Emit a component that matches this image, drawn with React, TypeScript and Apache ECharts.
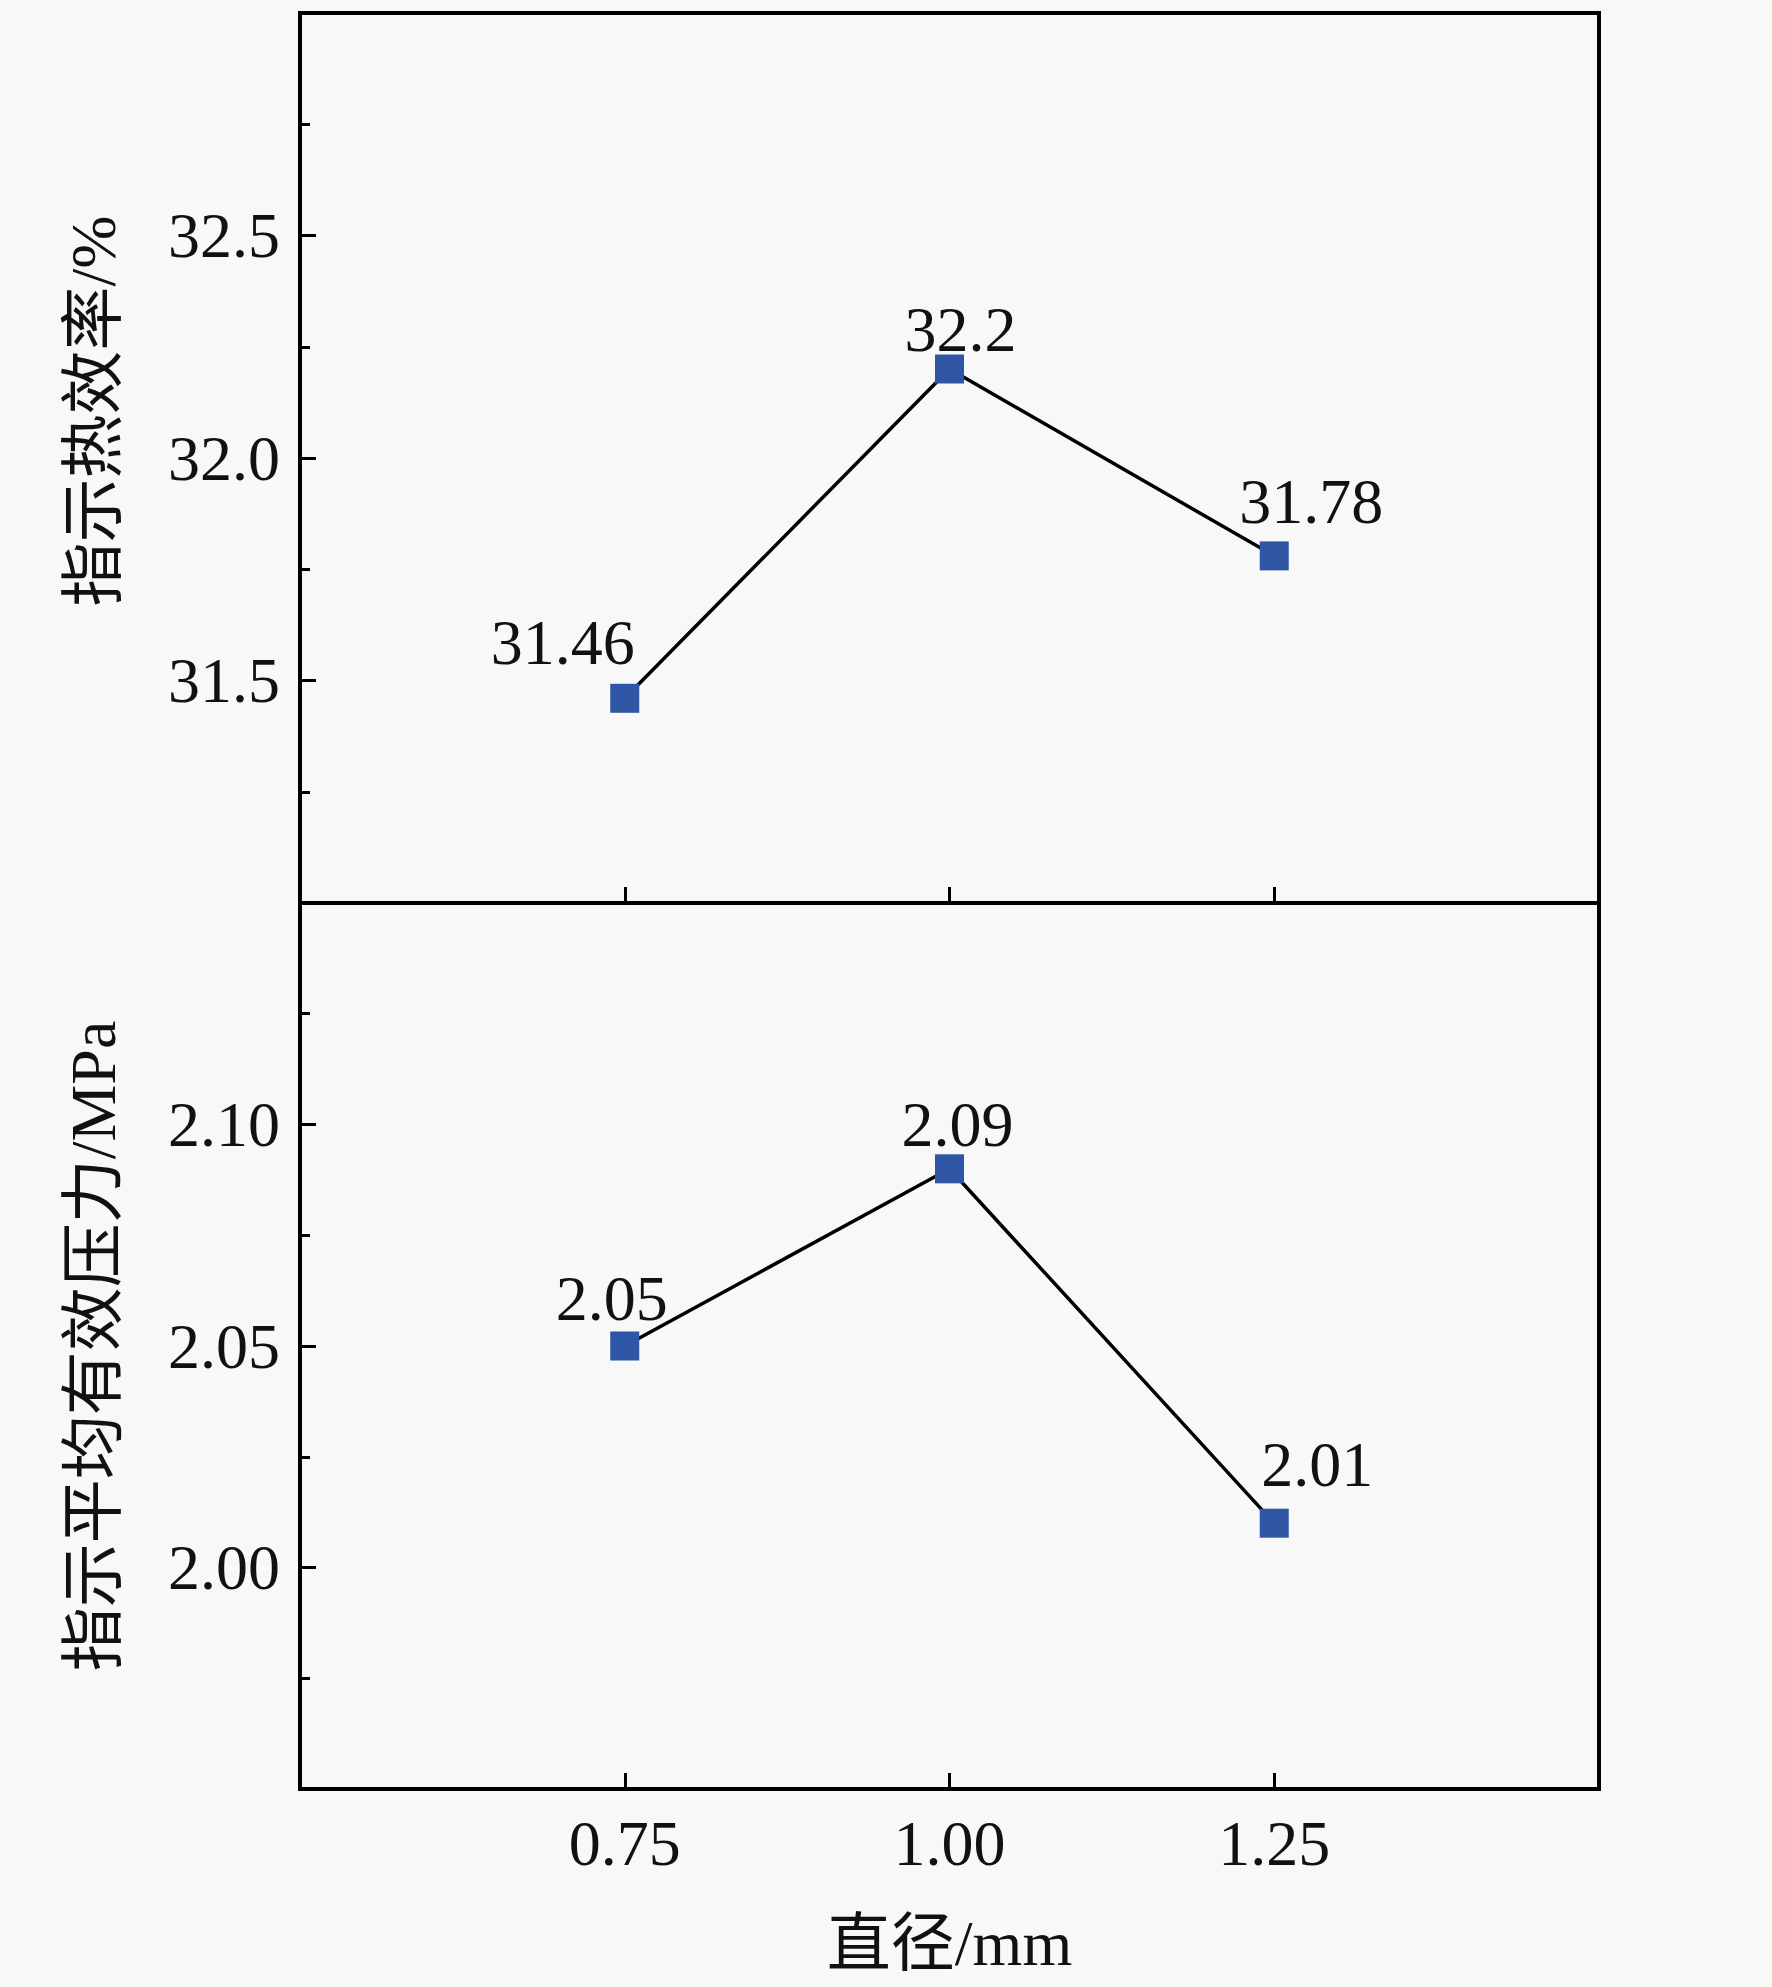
import React, { useEffect, useRef } from "react";
import * as echarts from "echarts";

// ---- data ----
const diameters = [0.75, 1.0, 1.25];
const efficiency = [31.46, 32.2, 31.78];
const pressure = [2.05, 2.09, 2.01];
const xAxisName = "直径/mm";
const effAxisName = "指示热效率/%";
const presAxisName = "指示平均有效压力/MPa";

// label nudges (styling only)
const effLabelOffsets = [[-62, -9], [11, 7], [37, -8]];
const presLabelOffsets = [[-13, -1], [8, 2], [43, -12]];

const FONT = "'Liberation Serif', 'Times New Roman', 'Noto Sans CJK SC', serif";
const TXT = "#111";
const BLUE = "#2f56a5";

export default function App() {
  const ref = useRef<HTMLDivElement>(null);
  useEffect(() => {
    if (!ref.current) return;
    const chart = echarts.init(ref.current, undefined, { renderer: "svg" });

    const xCommon = (gridIndex: number, showLabels: boolean, name?: string) => ({
      type: "value",
      gridIndex,
      min: 0.5,
      max: 1.5,
      interval: 0.25,
      axisLine: { show: false },
      axisTick: { show: true, inside: true, length: 16, lineStyle: { color: "#000", width: 3 } },
      splitLine: { show: false },
      axisLabel: {
        show: showLabels,
        margin: 22,
        fontSize: 64,
        fontFamily: FONT,
        color: TXT,
        formatter: (v: number) => (v < 0.6 || v > 1.4 ? "" : v.toFixed(2)),
      },
      name: name,
      nameLocation: "middle",
      nameGap: 122,
      nameTextStyle: { fontSize: 64, fontFamily: FONT, color: TXT },
    });

    const yCommon = (
      gridIndex: number,
      min: number,
      max: number,
      interval: number,
      digits: number,
      name: string,
      padShift: number
    ) => ({
      type: "value",
      gridIndex,
      min,
      max,
      interval,
      axisLine: { show: false },
      axisTick: { show: true, inside: true, length: 16, lineStyle: { color: "#000", width: 3 } },
      minorTick: { show: true, splitNumber: 2, length: 10, lineStyle: { color: "#000", width: 3 } },
      splitLine: { show: false },
      minorSplitLine: { show: false },
      axisLabel: {
        margin: 20,
        fontSize: 64,
        fontFamily: FONT,
        color: TXT,
        formatter: (v: number) =>
          v < min + interval * 0.4 || v > max - interval * 0.4 ? "" : v.toFixed(digits),
      },
      name,
      nameLocation: "middle",
      nameGap: 175,
      nameRotate: 90,
      nameTextStyle: {
        fontSize: 64,
        fontFamily: FONT,
        color: TXT,
        padding: [0, 0, 0, padShift],
      },
    });

    const series = (
      xi: number,
      values: number[],
      offsets: number[][],
      digits: (v: number) => string
    ) => ({
      type: "line",
      xAxisIndex: xi,
      yAxisIndex: xi,
      data: diameters.map((d, i) => ({
        value: [d, values[i]],
        label: { offset: offsets[i] },
      })),
      symbol: "rect",
      symbolSize: 29,
      itemStyle: { color: BLUE },
      lineStyle: { color: "#000", width: 3.5 },
      label: {
        show: true,
        position: "top",
        distance: 0,
        fontSize: 64,
        fontFamily: FONT,
        color: TXT,
        formatter: (p: any) => digits(p.value[1]),
      },
      z: 3,
    });

    chart.setOption({
      animation: false,
      backgroundColor: "#f8f8f8",
      grid: [
        { left: 300, top: 13, width: 1299, height: 890, show: true, borderColor: "#000", borderWidth: 4, backgroundColor: "transparent" },
        { left: 300, top: 903, width: 1299, height: 886, show: true, borderColor: "#000", borderWidth: 4, backgroundColor: "transparent" },
      ],
      xAxis: [xCommon(0, false), xCommon(1, true, xAxisName)],
      yAxis: [
        yCommon(0, 31.0, 33.0, 0.5, 1, effAxisName, 94),
        yCommon(1, 1.95, 2.15, 0.05, 2, presAxisName, 0),
      ],
      series: [
        series(0, efficiency, effLabelOffsets, (v) => String(v)),
        series(1, pressure, presLabelOffsets, (v) => v.toFixed(2)),
      ],
    });
    return () => chart.dispose();
  }, []);

  return (
    <div
      ref={ref}
      style={{ position: "fixed", left: 0, top: 0, width: 1772, height: 1987 }}
    />
  );
}
